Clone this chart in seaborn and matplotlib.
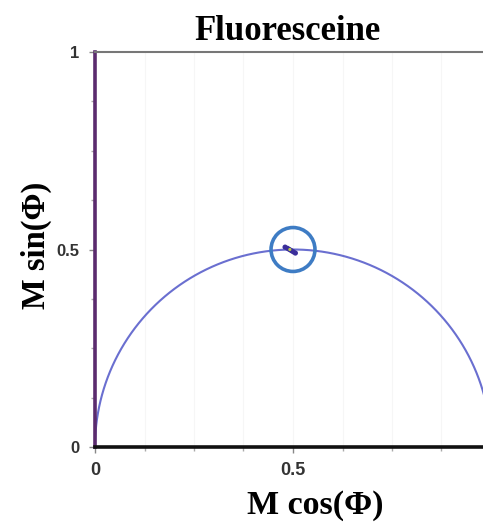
import numpy as np
import pandas as pd
import matplotlib
matplotlib.use("Agg")
import matplotlib.pyplot as plt
import seaborn as sns
from matplotlib.ticker import MultipleLocator

# Data
circle_center = (0.5, 0.0)
circle_radius = 0.5
cluster_g = [0.480, 0.486, 0.491, 0.496, 0.501, 0.506]
cluster_s = [0.506, 0.503, 0.500, 0.497, 0.494, 0.491]
ring_g = [0.5]
ring_s = [0.5]
x_ticks = [0, 0.5]
x_tick_labels = ["0", "0.5"]
y_ticks = [0, 0.5, 1]
y_tick_labels = ["0", "0.5", "1"]

sns.set_theme(style="white")
plt.rcParams["font.family"] = ["Liberation Sans", "DejaVu Sans"]

fig = plt.figure(figsize=(4.83, 5.22), dpi=100)
ax = fig.add_axes([95 / 483, 75 / 522, 396 / 483, 395 / 522])

# Universal semicircle
phi = np.linspace(0, np.pi, 400)
semi = pd.DataFrame({
    "g": circle_center[0] + circle_radius * np.cos(phi),
    "s": circle_center[1] + circle_radius * np.sin(phi),
})
sns.lineplot(data=semi, x="g", y="s", sort=False, color="#6a6fd0", lw=1.5, ax=ax)

# Data cluster
sns.scatterplot(x=cluster_g, y=cluster_s, color="#3b2e9a", s=14, edgecolor="none", ax=ax, zorder=4)
sns.scatterplot(x=[0.492], y=[0.500], color="#b8c84a", s=5, edgecolor="none", ax=ax, zorder=5)

# Highlight ring
sns.scatterplot(x=ring_g, y=ring_s, s=1000, facecolor="none", edgecolor="#3e7cc4", linewidth=2.6, ax=ax, zorder=6)

ax.set_xlim(0, 1)
ax.set_ylim(0, 1)

ax.set_xticks(x_ticks)
ax.set_xticklabels(x_tick_labels)
ax.set_yticks(y_ticks)
ax.set_yticklabels(y_tick_labels)
ax.xaxis.set_minor_locator(MultipleLocator(0.125))
ax.yaxis.set_minor_locator(MultipleLocator(0.125))
ax.tick_params(axis="both", which="major", length=4, width=1, color="#888888",
               labelcolor="#333333", bottom=True, left=True)
ax.tick_params(axis="x", which="major", labelsize=13, pad=7)
ax.tick_params(axis="y", which="major", labelsize=12, pad=7)
ax.tick_params(axis="both", which="minor", length=3, width=1, color="#aaaaaa",
               bottom=True, left=True)
for lab in ax.get_xticklabels() + ax.get_yticklabels():
    lab.set_fontweight("bold")

for x in np.arange(0.125, 1.0, 0.125):
    ax.axvline(x, color="#f6f6f6", lw=0.8, zorder=0)

ax.spines["left"].set_color("#5b2b6e")
ax.spines["left"].set_linewidth(2.6)
ax.spines["bottom"].set_color("#111111")
ax.spines["bottom"].set_linewidth(2.6)
ax.spines["top"].set_color("#777777")
ax.spines["top"].set_linewidth(1.5)
ax.spines["right"].set_visible(False)

serif = ["Liberation Serif", "DejaVu Serif"]
ax.set_title("Fluoresceine", fontsize=25, fontweight="bold", family=serif,
             color="black", pad=9, x=0.487)
ax.set_xlabel("M cos(Φ)", fontsize=24.5, fontweight="bold", family=serif,
              color="black")
ax.set_ylabel("M sin(Φ)", fontsize=23.5, fontweight="bold", family=serif,
              color="black")
ax.xaxis.set_label_coords(0.555, -0.11)
ax.yaxis.set_label_coords(-0.108, 0.51)

fig.savefig("out.png", dpi=100)
